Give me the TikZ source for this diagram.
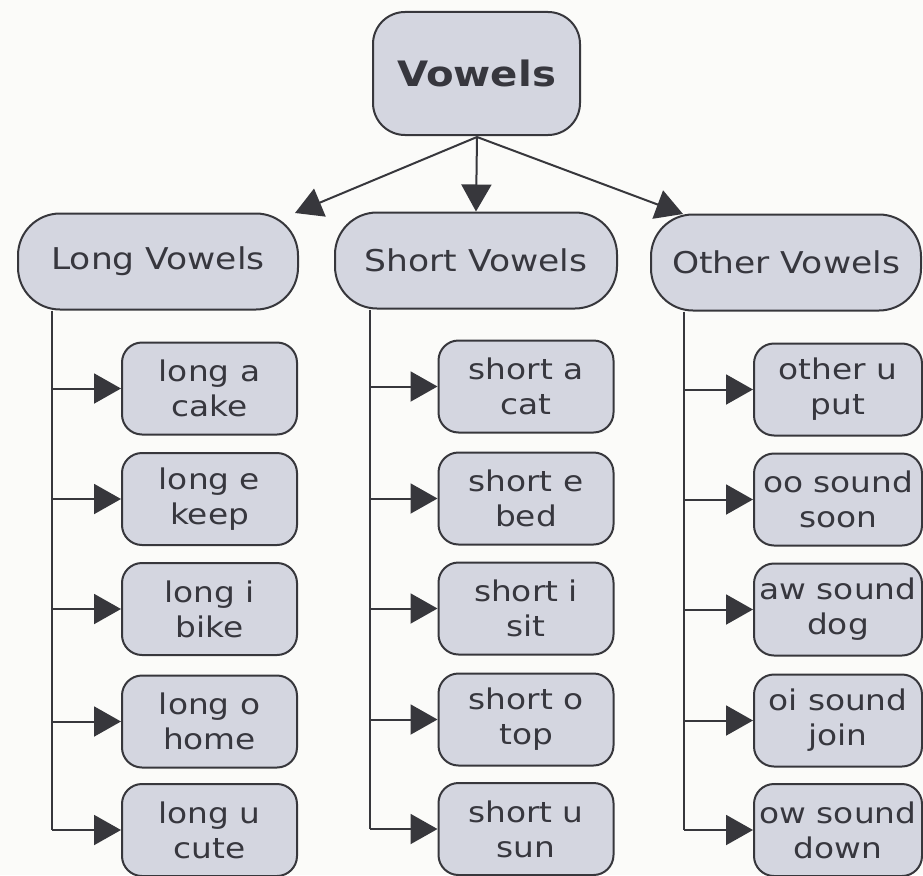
\documentclass[tikz,border=0pt]{standalone}
\usepackage{fontspec}
\setmainfont[FakeStretch=1.15]{DejaVu Sans}
\usetikzlibrary{arrows.meta}
\definecolor{boxfill}{RGB}{212,214,224}
\definecolor{boxline}{RGB}{55,55,60}
\definecolor{txt}{RGB}{55,55,62}
\definecolor{bg}{RGB}{251,251,249}
\begin{document}
\begin{tikzpicture}[x=1pt,y=-1pt,
  box/.style={draw=boxline,line width=2pt,fill=boxfill,text=txt,align=center,inner sep=0pt},
  rootbox/.style={box,rounded corners=32pt,minimum width=207pt,minimum height=123pt,font=\fontsize{35}{40}\selectfont\bfseries},
  catbox/.style={box,rounded corners=42pt,minimum height=96pt,font=\fontsize{30}{34}\selectfont},
  leafbox/.style={box,rounded corners=20pt,minimum width=175pt,minimum height=92pt,font=\fontsize{28.5}{35}\selectfont},
  conn/.style={draw=boxline,line width=2pt},
  arr/.style={conn,-{Triangle[length=27pt,width=30pt]}}]
\fill[bg] (0,0) rectangle (923,875);
\useasboundingbox (0,0) rectangle (923,875);
% root
\node[rootbox] (root) at (476.5,73.5) {Vowels};
% categories
\node[catbox,minimum width=280pt] (lv) at (158,261.5) {Long Vowels};
\node[catbox,minimum width=282pt] (sv) at (476,260.5) {Short Vowels};
\node[catbox,minimum width=270pt] (ov) at (786,262.5) {Other Vowels};
% root connectors
\coordinate (rb) at (477,137);
\coordinate (lvt) at (295,213);
\coordinate (ovt) at (683,214);
\draw[arr] (rb) -- (lvt);
\draw[arr] (rb) -- (sv.north);
\draw[arr] (rb) -- (ovt);
% long vowels leaves
\node[leafbox] (la) at (209.5,388.5) {long a\\cake};
\node[leafbox] (le) at (209.5,499) {long e\\keep};
\node[leafbox] (li) at (209.5,609) {long i\\bike};
\node[leafbox] (lo) at (209.5,721.5) {long o\\home};
\node[leafbox] (lu) at (209.5,830) {long u\\cute};
% short vowels leaves
\node[leafbox] (sa) at (526,386.5) {short a\\cat};
\node[leafbox] (se) at (526,498.5) {short e\\bed};
\node[leafbox] (si) at (526,608.5) {short i\\sit};
\node[leafbox] (so) at (526,719.5) {short o\\top};
\node[leafbox] (su) at (526,829) {short u\\sun};
% other vowels leaves
\node[leafbox,minimum width=168pt] (ou) at (838,389.5) {other u\\put};
\node[leafbox,minimum width=168pt] (oo) at (838,499.5) {oo sound\\soon};
\node[leafbox,minimum width=168pt] (aw) at (838,609.5) {aw sound\\dog};
\node[leafbox,minimum width=168pt] (oi) at (838,720.5) {oi sound\\join};
\node[leafbox,minimum width=168pt] (ow) at (838,830) {ow sound\\down};
% trunks
\coordinate (lx) at (52,0);
\coordinate (sx) at (370,0);
\coordinate (ox) at (684,0);
\draw[conn] (lx |- lv.south) -- (lx |- lu.west);
\draw[conn] (sx |- sv.south) -- (sx |- su.west);
\draw[conn] (ox |- ov.south) -- (ox |- ow.west);
\foreach \n in {la,le,li,lo,lu} \draw[arr] (lx |- \n.west) -- (\n.west);
\foreach \n in {sa,se,si,so,su} \draw[arr] (sx |- \n.west) -- (\n.west);
\foreach \n in {ou,oo,aw,oi,ow} \draw[arr] (ox |- \n.west) -- (\n.west);
\end{tikzpicture}
\end{document}
